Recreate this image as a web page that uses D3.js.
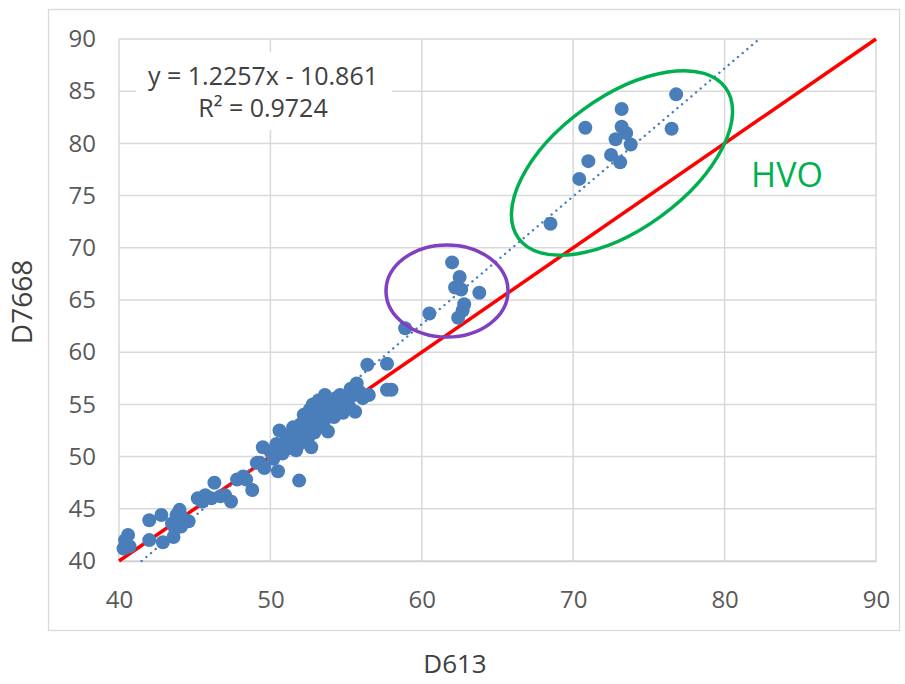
<!DOCTYPE html>
<html>
<head>
<meta charset="utf-8">
<script src="https://cdn.jsdelivr.net/npm/d3@7"></script>
<style>
  body { margin: 0; background: #fff; }
  text { font-family: "Open Sans", "Noto Sans", sans-serif; }
</style>
</head>
<body>
<div id="main"></div>
<script>
// D613 values (x) and D7668 values (y)
const lowX  = [40.3, 40.6, 40.4, 40.7, 42.0, 42.0, 42.8, 42.9, 43.6, 43.5, 44.0, 43.8, 44.1, 44.6, 43.7, 44.1, 45.2, 45.7, 45.5, 46.3, 46.1, 46.7, 47.0, 47.4, 47.8, 48.2, 48.8, 48.4, 49.1];
const lowY  = [41.2, 42.5, 42.0, 41.4, 43.9, 42.0, 44.4, 41.8, 42.3, 43.6, 44.9, 44.4, 44.3, 43.8, 43.1, 43.3, 46.0, 46.3, 45.7, 47.5, 46.0, 46.2, 46.3, 45.7, 47.8, 48.1, 46.8, 47.8, 49.4];
const midX  = [49.3, 49.5, 49.6, 50.0, 50.2, 50.5, 50.4, 50.6, 50.8, 51.0, 51.2, 51.3, 51.4, 51.5, 51.6, 51.7, 51.8, 51.9, 52.0, 52.0, 52.1, 52.2, 52.3, 52.4, 52.5, 52.6, 52.7, 52.7, 52.8, 52.9, 53.0, 53.1, 53.2, 53.3, 53.4, 53.5, 53.6, 53.7, 53.8, 53.9, 54.0, 54.2, 54.3, 54.5, 54.6, 54.8, 55.0, 55.2, 55.3, 55.5, 55.6, 55.7, 55.9, 56.1, 56.4, 56.5, 57.7, 57.7, 58.0];
const midY  = [49.4, 50.9, 48.9, 50.5, 49.8, 48.6, 51.2, 52.5, 50.3, 51.5, 50.8, 52.1, 51.0, 52.8, 51.7, 50.6, 52.4, 47.7, 53.1, 51.3, 52.0, 54.0, 52.6, 53.5, 51.8, 54.5, 50.9, 53.0, 55.0, 52.3, 54.2, 53.6, 55.4, 52.8, 54.8, 53.2, 55.9, 54.1, 52.4, 55.2, 54.6, 53.8, 55.6, 54.9, 55.9, 54.2, 55.4, 54.8, 56.5, 55.9, 54.3, 57.0, 56.2, 55.6, 58.8, 55.9, 58.9, 56.4, 56.4];
const highX = [58.9, 60.5, 62.0, 62.5, 62.2, 62.6, 63.8, 62.8, 62.7, 62.4, 68.5, 70.4, 71.0, 70.8, 72.5, 73.1, 72.8, 73.2, 73.5, 73.8, 73.2, 76.5, 76.8];
const highY = [62.3, 63.7, 68.6, 67.2, 66.2, 66.0, 65.7, 64.6, 64.0, 63.3, 72.3, 76.6, 78.3, 81.5, 78.9, 78.2, 80.4, 81.6, 81.0, 79.9, 83.3, 81.4, 84.7];

const ticks = [40, 50, 60, 70, 80, 90];
const yTicks = [40, 45, 50, 55, 60, 65, 70, 75, 80, 85, 90];
const slope = 1.2257, intercept = -10.861;
const eqLines = ["y = 1.2257x - 10.861", "R² = 0.9724"];

const allX = lowX.concat(midX, highX);
const allY = lowY.concat(midY, highY);
const points = allX.map((x, i) => ({x: x, y: allY[i]}));

const width = 905, height = 684;
const margin = {top: 39, right: 29, bottom: 123, left: 119};

const svg = d3.select("#main").append("svg")
    .attr("width", width)
    .attr("height", height);

// outer chart border
svg.append("rect")
    .attr("x", 48.5).attr("y", 9.5)
    .attr("width", 851).attr("height", 621)
    .attr("fill", "none")
    .attr("stroke", "#d9d9d9")
    .attr("stroke-width", 1.3);

const x = d3.scaleLinear().domain([40, 90]).range([margin.left, width - margin.right]);
const y = d3.scaleLinear().domain([40, 90]).range([height - margin.bottom, margin.top]);

// gridlines
svg.append("g").selectAll("line")
    .data(yTicks).enter().append("line")
    .attr("x1", x(40)).attr("x2", x(90))
    .attr("y1", d => y(d)).attr("y2", d => y(d))
    .attr("stroke", "#d9d9d9").attr("stroke-width", 1.5);

svg.append("g").selectAll("line")
    .data(ticks).enter().append("line")
    .attr("x1", d => x(d)).attr("x2", d => x(d))
    .attr("y1", y(40)).attr("y2", y(90))
    .attr("stroke", "#d9d9d9").attr("stroke-width", 1.5);

// axes via d3 axis, styled like excel
const xAxis = svg.append("g")
    .attr("transform", "translate(0," + y(40) + ")")
    .call(d3.axisBottom(x).tickValues(ticks).tickSize(0).tickPadding(30));
xAxis.select(".domain").attr("stroke", "#d0d0d0").attr("stroke-width", 1.5);
xAxis.selectAll("text").attr("fill", "#595959").style("font-size", "24px");

const yAxis = svg.append("g")
    .attr("transform", "translate(" + x(40) + ",0)")
    .call(d3.axisLeft(y).tickValues(yTicks).tickSize(0).tickPadding(23));
yAxis.select(".domain").remove();
yAxis.selectAll("text").attr("fill", "#595959").style("font-size", "24px");

// axis titles
svg.append("text")
    .attr("x", 455).attr("y", 673)
    .attr("text-anchor", "middle")
    .attr("fill", "#404040")
    .style("font-size", "26px")
    .text("D613");

svg.append("text")
    .attr("transform", "translate(32,302)rotate(-90)")
    .attr("text-anchor", "middle")
    .attr("fill", "#404040")
    .style("font-size", "28px")
    .text("D7668");

// equation label box
svg.append("rect")
    .attr("x", 136).attr("y", 52)
    .attr("width", 256).attr("height", 78)
    .attr("fill", "#fff");

svg.append("g").selectAll("text")
    .data(eqLines).enter().append("text")
    .attr("x", 263)
    .attr("y", (d, i) => 85 + i * 32)
    .attr("text-anchor", "middle")
    .attr("fill", "#404040")
    .style("font-size", "25px")
    .text(d => d);

// 1:1 line
svg.append("line")
    .attr("x1", x(40)).attr("y1", y(40))
    .attr("x2", x(90)).attr("y2", y(90))
    .attr("stroke", "#ff0000")
    .attr("stroke-width", 3.5);

// points
svg.append("g").selectAll("circle")
    .data(points).enter().append("circle")
    .attr("cx", d => x(d.x))
    .attr("cy", d => y(d.y))
    .attr("r", 7)
    .attr("fill", "#4a7ebb");

// linear trendline, clipped to the plot
const tx0 = (40 - intercept) / slope, tx1 = (90 - intercept) / slope;
svg.append("line")
    .attr("x1", x(tx0)).attr("y1", y(40))
    .attr("x2", x(tx1)).attr("y2", y(90))
    .attr("stroke", "#4a7ebb")
    .attr("stroke-width", 2.4)
    .attr("stroke-dasharray", "0.1,6")
    .attr("stroke-linecap", "round");

// annotation ellipses
svg.append("ellipse")
    .attr("cx", 447).attr("cy", 291)
    .attr("rx", 61).attr("ry", 46)
    .attr("fill", "none")
    .attr("stroke", "#8040c0")
    .attr("stroke-width", 3.5);

svg.append("ellipse")
    .attr("transform", "translate(622,163)rotate(-36)")
    .attr("rx", 128).attr("ry", 66)
    .attr("fill", "none")
    .attr("stroke", "#00b050")
    .attr("stroke-width", 3.5);

svg.append("text")
    .attr("x", 787).attr("y", 187)
    .attr("text-anchor", "middle")
    .attr("fill", "#00b050")
    .style("font-size", "34px")
    .text("HVO");
</script>
</body>
</html>
